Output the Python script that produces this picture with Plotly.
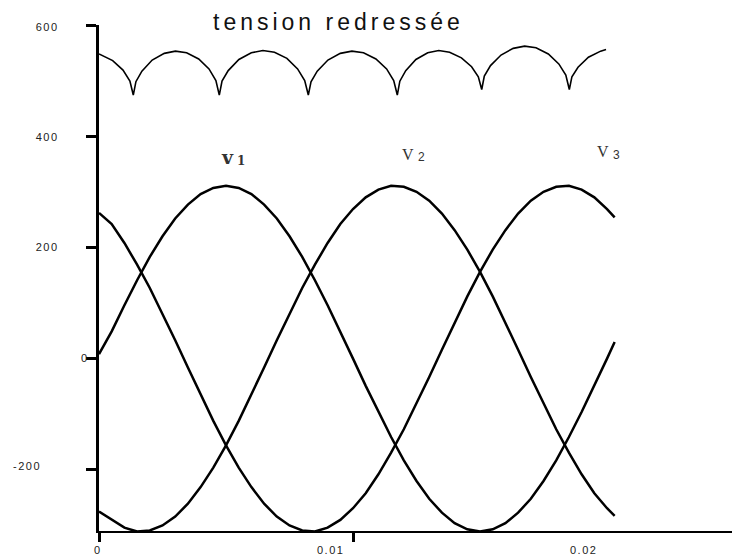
import plotly.graph_objects as go

# ---- data -------------------------------------------------------------
# time samples (s) for the three phase voltages
t_phase = [0.0000, 0.0005, 0.0010, 0.0015, 0.0020, 0.0025, 0.0030, 0.0035,
           0.0040, 0.0045, 0.0050, 0.0055, 0.0060, 0.0065, 0.0070, 0.0075,
           0.0080, 0.0085, 0.0090, 0.0095, 0.0100, 0.0105, 0.0110, 0.0115,
           0.0120, 0.0125, 0.0130, 0.0135, 0.0140, 0.0145, 0.0150, 0.0155,
           0.0160, 0.0165, 0.0170, 0.0175, 0.0180, 0.0185, 0.0190, 0.0195,
           0.0200, 0.0203]

v1 = [8, 49, 96, 141, 183, 220, 252, 277, 296, 307, 311, 307, 296, 277, 252,
      220, 183, 141, 96, 49, 0, -49, -96, -141, -183, -220, -252, -277, -296,
      -307, -311, -307, -296, -277, -252, -220, -183, -141, -96, -49, 0, 30]

v2 = [-275, -290, -304, -311, -309, -300, -284, -261, -231, -196, -156, -112,
      -65, -16, 33, 81, 127, 169, 208, 242, 269, 290, 304, 311, 309, 300, 284,
      261, 231, 196, 156, 112, 65, 16, -33, -81, -127, -169, -208, -242, -269,
      -283]

v3 = [262, 242, 208, 169, 127, 81, 33, -16, -65, -112, -156, -196, -231, -261,
      -284, -300, -309, -311, -304, -290, -269, -242, -208, -169, -127, -81,
      -33, 16, 65, 112, 156, 196, 231, 261, 284, 300, 309, 311, 304, 290, 269,
      254]

# rectified (bridge output) voltage
t_rect = [0.000000, 0.000539, 0.000945, 0.001217, 0.001350,
          0.001453, 0.001689, 0.002094, 0.002571, 0.003008, 0.003449, 0.003925, 0.004331, 0.004602, 0.004736,
          0.004843, 0.005087, 0.005508, 0.005996, 0.006453, 0.006909, 0.007398, 0.007819, 0.008098, 0.008240,
          0.008346, 0.008591, 0.009012, 0.009500, 0.009957, 0.010413, 0.010902, 0.011323, 0.011602, 0.011744,
          0.011843, 0.012075, 0.012476, 0.012941, 0.013374, 0.013803, 0.014268, 0.014669, 0.014933, 0.015067,
          0.015169, 0.015413, 0.015827, 0.016307, 0.016756, 0.017205, 0.017689, 0.018102, 0.018378, 0.018516,
          0.018618, 0.018858, 0.019268, 0.019748, 0.019961]

v_rect = [548, 536, 519, 499, 474,
          498, 517, 537, 549, 553, 550, 539, 521, 500, 474,
          499, 518, 538, 550, 554, 551, 540, 521, 500, 474,
          498, 517, 537, 549, 553, 550, 539, 521, 500, 474,
          499, 518, 538, 550, 554, 551, 541, 525, 507, 484,
          508, 527, 546, 558, 562, 559, 548, 530, 510, 484,
          507, 524, 542, 553, 556]

x_tick_vals = [0, 0.01, 0.02]
x_tick_text = ["0", "0.01", "0.02"]
y_tick_vals = [600, 400, 200, 0, -200]
y_tick_text = ["600", "400", "200", "0", "-200"]

title_text = "tension redressée"

# ---- label placement (pixel offsets) ---------------------------------
x_label_xshift = [-2, -23, -24]
x_label_yshift = -19
y_label_xshift = [-52, -52, -52, -15, -72]
y_label_yshift = [-2, -1, 0, 1, 4]

fig = go.Figure()

line_main = dict(color="black", width=2.5)
for v in (v1, v2, v3):
    fig.add_trace(go.Scatter(x=t_phase, y=v, mode="lines", line=line_main,
                             hoverinfo="skip"))

fig.add_trace(go.Scatter(x=t_rect, y=v_rect, mode="lines",
                         line=dict(color="black", width=1.6), hoverinfo="skip"))

ann = []
sans = "Liberation Sans, Arial, sans-serif"
serif = "Liberation Serif, Times New Roman, serif"
slab = "DejaVu Serif, serif"

for val, txt, dx in zip(x_tick_vals, x_tick_text, x_label_xshift):
    ann.append(dict(x=val, y=0, xref="x", yref="paper", text=txt,
                    showarrow=False, xanchor="center", yanchor="middle",
                    xshift=dx, yshift=x_label_yshift,
                    font=dict(family=sans, size=11, color="#222")))

for val, txt, dx, dy in zip(y_tick_vals, y_tick_text, y_label_xshift, y_label_yshift):
    ann.append(dict(x=0, y=val, xref="x", yref="y", text=txt,
                    showarrow=False, xanchor="center", yanchor="middle",
                    xshift=dx, yshift=dy,
                    font=dict(family=sans, size=11, color="#222")))

# phase names
ann.append(dict(x=0.005059, y=363, xref="x", yref="y", text="<b>v</b>",
                showarrow=False, font=dict(family=slab, size=19, color="#333")))
ann.append(dict(x=0.005600, y=355, xref="x", yref="y", text="<b>1</b>",
                showarrow=False, font=dict(family=slab, size=12, color="#333")))
ann.append(dict(x=0.012177, y=367, xref="x", yref="y", text="V",
                showarrow=False, font=dict(family=serif, size=16, color="#333")))
ann.append(dict(x=0.012677, y=362, xref="x", yref="y", text="2",
                showarrow=False, font=dict(family=sans, size=12, color="#333")))
ann.append(dict(x=0.019854, y=373, xref="x", yref="y", text="V",
                showarrow=False, font=dict(family=serif, size=16, color="#333")))
ann.append(dict(x=0.020355, y=366, xref="x", yref="y", text="3",
                showarrow=False, font=dict(family=sans, size=12, color="#333")))

# title
ann.append(dict(x=0.3784, y=1, xref="paper", yref="paper", text=title_text,
                showarrow=False, xanchor="center", yanchor="bottom", yshift=-12,
                font=dict(family=sans, size=23, color="#111")))

fig.update_layout(
    width=732, height=558,
    margin=dict(l=99, r=0, t=25, b=27),
    paper_bgcolor="white", plot_bgcolor="white",
    showlegend=False,
    annotations=ann,
    xaxis=dict(range=[0, 0.02492], showline=True, linecolor="black",
               linewidth=2, ticks="outside", tickvals=[0, 0.01], ticklen=9,
               tickwidth=2.5, tickcolor="black", showticklabels=False,
               showgrid=False, zeroline=False),
    yaxis=dict(range=[-310, 600], showline=True, linecolor="black",
               linewidth=3, ticks="outside", tickvals=y_tick_vals, ticklen=10,
               tickwidth=2.5, tickcolor="black", showticklabels=False,
               showgrid=False, zeroline=False),
)

letter_spacing_js = """
var gd = document.getElementById('{plot_id}');
gd.querySelectorAll('text.annotation-text').forEach(function (el) {
  var s = el.textContent;
  if (s.indexOf('tension') === 0) { el.style.letterSpacing = '4px'; }
  else if (/^-?[0-9.]+$/.test(s) && s.length > 1) { el.style.letterSpacing = '1.5px'; }
});
"""

fig.write_html("out.html", config={"displayModeBar": False},
               post_script=letter_spacing_js)
